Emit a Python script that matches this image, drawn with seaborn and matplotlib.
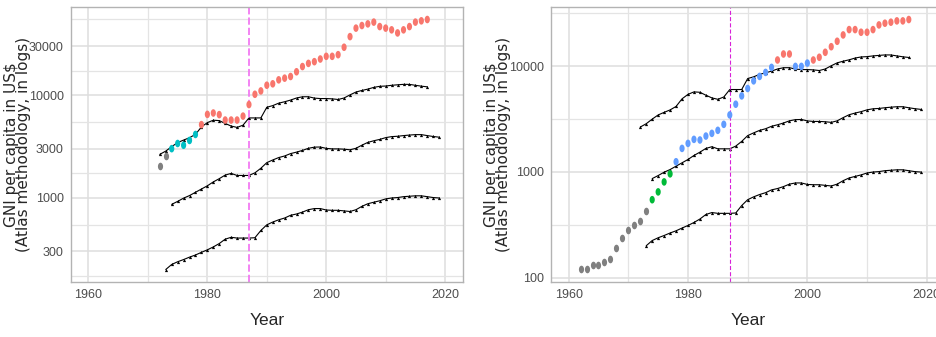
import numpy as np
import pandas as pd
import matplotlib
matplotlib.use('Agg')
import matplotlib.pyplot as plt
import seaborn as sns
from matplotlib.path import Path
from matplotlib.ticker import FixedLocator, FuncFormatter, NullFormatter

# --- data -------------------------------------------------------------------
# left panel: country GNI per capita (1972-2017) and its income group
left_years = list(range(1972, 2018))
left_gni = [2055, 2580, 3010, 3380, 3250, 3620, 4140, 5160, 6500, 6700,
            6460, 5720, 5720, 5720, 6250, 8100, 10200, 11000, 12500, 12900,
            14100, 14650, 15200, 16900, 19000, 20400, 21200, 22500, 23900, 23900,
            24800, 29300, 37200, 45000, 47700, 49500, 51500, 46600, 45000, 43300,
            40400, 43300, 46600, 51500, 53000, 54600]
left_group = ['NA'] * 2 + ['UM'] * 5 + ['H'] * 39

# right panel: country GNI per capita (1962-2017) and its income group
right_years = list(range(1962, 2018))
right_gni = [120, 120, 132, 132, 140, 150, 192, 239, 283, 311,
             340, 429, 545, 646, 803, 957, 1245, 1665, 1857, 2027,
             2000, 2178, 2310, 2468, 2812, 3450, 4357, 5224, 6137, 7246,
             7981, 8710, 9720, 11410, 13000, 13000, 9930, 9930, 10670, 11410,
             12110, 13500, 15240, 17160, 19690, 22120, 22120, 20880, 20880, 22120,
             24490, 25420, 25990, 26740, 26740, 27540]
right_group = (['NA'] * 12 + ['L'] * 4 + ['M'] * 17 + ['H'] * 3
               + ['M'] * 3 + ['H'] * 17)

# income thresholds (same in both panels)
high_years = list(range(1972, 2018))
high_thr = [2650, 2850, 3150, 3450, 3650, 3850, 4150, 4900, 5400, 5700,
            5650, 5300, 5000, 4850, 5100, 6000, 6000, 6000, 7620, 7910,
            8355, 8625, 8955, 9385, 9645, 9655, 9360, 9265, 9265, 9205,
            9075, 9385, 10065, 10725, 11115, 11455, 11905, 12195, 12275, 12475,
            12615, 12745, 12735, 12475, 12235, 12055]
mid_years = list(range(1974, 2020))
mid_thr = [863, 922, 992, 1051, 1131, 1217, 1308, 1428, 1535, 1665,
           1727, 1650, 1650, 1650, 1750, 1940, 2200, 2335, 2465, 2555,
           2695, 2785, 2895, 3035, 3115, 3125, 3030, 2995, 2995, 2975,
           2935, 3035, 3255, 3465, 3595, 3705, 3855, 3945, 3975, 4035,
           4085, 4125, 4125, 4035, 3955, 3895]
low_years = list(range(1973, 2020))
low_thr = [200, 224, 238, 250, 264, 277, 294, 311, 332, 358,
           395, 412, 405, 405, 405, 408, 480, 545, 580, 610,
           635, 675, 695, 725, 765, 785, 785, 760, 755, 755,
           745, 735, 765, 825, 875, 905, 935, 975, 995, 1005,
           1025, 1035, 1045, 1045, 1025, 1005, 995]

cutoff_year = 1987

left_palette = {'H': '#F8766D', 'UM': '#00BFC4'}
right_palette = {'H': '#F8766D', 'L': '#00BA38', 'M': '#619CFF'}

x_major = [1960, 1980, 2000, 2020]
x_minor = [1970, 1990, 2010]
left_y_major = [100, 300, 1000, 3000, 10000, 30000, 100000]
right_y_major = [100, 1000, 10000, 100000]

# --- style ------------------------------------------------------------------
sns.set_style('whitegrid')
plt.rcParams['font.family'] = ['Liberation Sans', 'DejaVu Sans']

t = np.linspace(0, 2 * np.pi, 41)
dot = Path(np.column_stack([0.68 * np.cos(t), np.sin(t)]), closed=True)

thr = pd.concat([
    pd.DataFrame({'year': high_years, 'gni': high_thr, 'line': 'high'}),
    pd.DataFrame({'year': mid_years, 'gni': mid_thr, 'line': 'mid'}),
    pd.DataFrame({'year': low_years, 'gni': low_thr, 'line': 'low'}),
])


def draw_panel(ax, years, gni, group, palette, majors, vcolor, vlw, vdash):
    df = pd.DataFrame({'year': years, 'gni': gni, 'group': group})
    ax.set_yscale('log')

    for name, sub in thr.groupby('line'):
        sns.lineplot(data=sub, x='year', y='gni', color='black', lw=0.8,
                     marker='^', markersize=2.3, markeredgewidth=0,
                     estimator=None, ax=ax)

    na = df[df['group'] == 'NA']
    sns.scatterplot(data=na, x='year', y='gni', color='#808080', marker=dot,
                    s=30, linewidth=0, ax=ax, zorder=3)
    known = df[df['group'] != 'NA']
    sns.scatterplot(data=known, x='year', y='gni', hue='group', palette=palette,
                    marker=dot, s=30, linewidth=0, legend=False, ax=ax, zorder=3)

    ax.axvline(cutoff_year, color=vcolor, lw=vlw, ls=(0, vdash), zorder=2)

    ax.set_xlim(1957, 2023)
    ax.margins(y=0.05)
    minors = list(np.sqrt(np.array(majors[:-1]) * np.array(majors[1:])))
    ax.xaxis.set_major_locator(FixedLocator(x_major))
    ax.xaxis.set_minor_locator(FixedLocator(x_minor))
    ax.yaxis.set_major_locator(FixedLocator(majors))
    ax.yaxis.set_minor_locator(FixedLocator(minors))
    ax.yaxis.set_major_formatter(FuncFormatter(lambda v, p: f'{v:.0f}'))
    ax.yaxis.set_minor_formatter(NullFormatter())

    ax.grid(which='major', color='#DEDEDE', lw=1.1)
    ax.grid(which='minor', color='#E4E4E4', lw=0.9)
    ax.tick_params(which='major', length=2.5, width=0.8, color='#B3B3B3',
                   pad=2.5, labelsize=9, labelcolor='#4D4D4D')
    ax.tick_params(which='minor', length=0)
    for sp in ax.spines.values():
        sp.set_color('#B3B3B3')
        sp.set_linewidth(1.0)

    ax.set_xlabel('Year', fontsize=12.5, labelpad=9)
    ax.set_ylabel('GNI per capita in US\\$\n(Atlas methodology, in logs)',
                  fontsize=11, family='DejaVu Sans', linespacing=0.8)
    ax.yaxis.set_label_coords(-0.1, 0.5)


fig = plt.figure(figsize=(9.36, 3.37), dpi=100)
ax1 = fig.add_axes([0.0755, 0.1632, 0.4191, 0.816])
ax2 = fig.add_axes([0.5884, 0.1641, 0.4208, 0.815])

draw_panel(ax1, left_years, left_gni, left_group, left_palette, left_y_major,
           '#F27AF2', 1.3, (4, 1.7))
draw_panel(ax2, right_years, right_gni, right_group, right_palette, right_y_major,
           '#D822D8', 0.8, (3.7, 1.9))

fig.savefig('out.png', dpi=100)
